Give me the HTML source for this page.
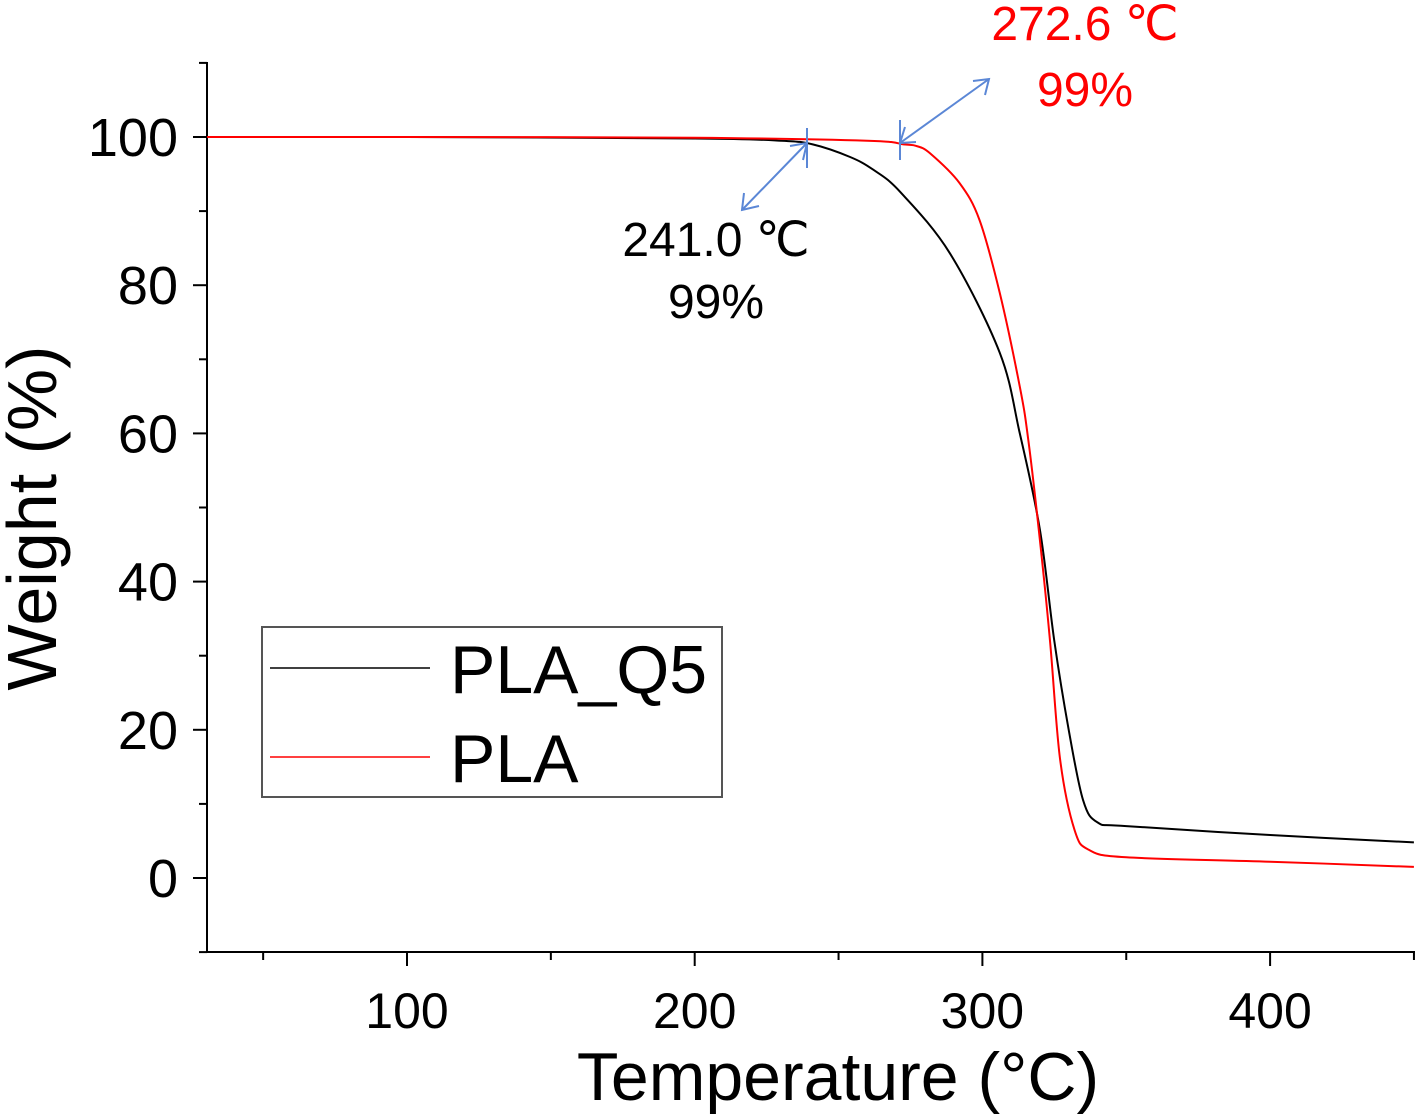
<!DOCTYPE html>
<html><head><meta charset="utf-8"><style>
html,body{margin:0;padding:0;background:#fff;}
svg{display:block;font-family:"Liberation Sans",sans-serif;}
</style></head><body>
<svg id="chart" width="1417" height="1116" viewBox="0 0 1417 1116">
<g id="axes"></g>
<g id="series"></g>
<g>
<rect x="262" y="627" width="460" height="170" fill="#fff" stroke="#555" stroke-width="2"/>
<line x1="270" y1="668" x2="430" y2="668" stroke="#000" stroke-width="1.5"/>
<text x="450" y="693" font-size="68" fill="#000">PLA_Q5</text>
<line x1="270" y1="757" x2="430" y2="757" stroke="#f00" stroke-width="1.5"/>
<text x="450" y="782" font-size="68" fill="#000">PLA</text>
</g>
<g stroke="#5b87d6" stroke-width="2" fill="none">
<line x1="807" y1="128" x2="807" y2="168"/>
<line x1="900" y1="120" x2="900" y2="160"/>
<line x1="807" y1="143" x2="742" y2="210"/>
<polyline points="744,193 742,210 759,206"/>
<polyline points="790,146 807,143 803,160"/>
<line x1="900" y1="143" x2="989" y2="79"/>
<polyline points="973,81 989,79 985,95"/>
<polyline points="905,127 900,143 916,142"/>
</g>
<text x="716" y="256" font-size="48" text-anchor="middle" fill="#000">241.0 ℃</text>
<text x="716" y="318" font-size="48" text-anchor="middle" fill="#000">99%</text>
<text x="1085" y="40" font-size="48" text-anchor="middle" fill="#f00">272.6 ℃</text>
<text x="1085" y="106" font-size="48" text-anchor="middle" fill="#f00">99%</text>
<text x="838" y="1100" font-size="68" text-anchor="middle" fill="#000">Temperature (°C)</text>
<text transform="translate(56,518) rotate(-90)" font-size="70" text-anchor="middle" fill="#000">Weight (%)</text>
</svg>
<script>
const xTicks=[100,200,300,400];
const yTicks=[0,20,40,60,80,100];
const q5T=[30,100,200,230,241,254,262,271.4,288.7,306,313,320,325,330,335,340,350,400,450];
const q5W=[100,100,99.8,99.5,99,97.3,95.6,92.6,84.3,70.9,60,47,32,20,10.5,7.5,7,5.8,4.8];
const plaT=[30,100,200,260,272.6,277,281.8,292,299,306,313,316,320,323.5,327,332,337,350,400,450];
const plaW=[100,100,99.9,99.5,99,98.8,97.8,93.8,88.8,79,66.3,59,45.6,32,16,6.5,3.8,2.8,2.2,1.5];
const NS='http://www.w3.org/2000/svg';
const X0=207,X1=1415,Y0=952,Y1=62;
const xMin=30.5;
function sx(v){return 407+(v-100)*2.877;}
function sy(v){return 878-v*7.41;}
function mk(tag,attrs,parent){const e=document.createElementNS(NS,tag);for(const k in attrs)e.setAttribute(k,attrs[k]);parent.appendChild(e);return e;}
const ax=document.getElementById('axes');
let e;
e=mk('line',{x1:X0,y1:Y1,x2:X0,y2:Y0,stroke:'#000','stroke-width':2},ax);


e=mk('line',{x1:X0,y1:Y0,x2:X1,y2:Y0,stroke:'#000','stroke-width':2},ax);


for(let v=50;v<=450;v+=50){const major=v%100===0;
e=mk('line',{x1:sx(v),y1:Y0,x2:sx(v),y2:Y0+(major?14:8),stroke:'#000','stroke-width':2},ax);

}
xTicks.forEach(v=>{e=mk('text',{x:sx(v),y:1028,'font-size':50,'text-anchor':'middle',fill:'#000'},ax);e.textContent=v;

});
for(let v=-10;v<=110;v+=10){const major=v%20===0;
e=mk('line',{x1:X0,y1:sy(v),x2:X0-(major?14:8),y2:sy(v),stroke:'#000','stroke-width':2},ax);

}
yTicks.forEach(v=>{e=mk('text',{x:178,y:sy(v)+19,'font-size':54,'text-anchor':'end',fill:'#000'},ax);e.textContent=v;

});
const se=document.getElementById('series');
function line(T,W,color,name){
const pts=T.map((t,i)=>[sx(Math.max(t,xMin)),sy(W[i])]);
let d='M'+pts[0][0].toFixed(1)+','+pts[0][1].toFixed(1);
for(let i=0;i<pts.length-1;i++){const p0=pts[Math.max(i-1,0)],p1=pts[i],p2=pts[i+1],p3=pts[Math.min(i+2,pts.length-1)];
const c1=[p1[0]+(p2[0]-p0[0])/6,p1[1]+(p2[1]-p0[1])/6],c2=[p2[0]-(p3[0]-p1[0])/6,p2[1]-(p3[1]-p1[1])/6];
d+=' C'+c1[0].toFixed(1)+','+c1[1].toFixed(1)+' '+c2[0].toFixed(1)+','+c2[1].toFixed(1)+' '+p2[0].toFixed(1)+','+p2[1].toFixed(1);}
const p=mk('path',{d:d,fill:'none',stroke:color,'stroke-width':2,'stroke-linejoin':'round'},se);

}
line(q5T,q5W,'#000','line-pla-q5');
line(plaT,plaW,'#f00','line-pla');
</script>
</body></html>
